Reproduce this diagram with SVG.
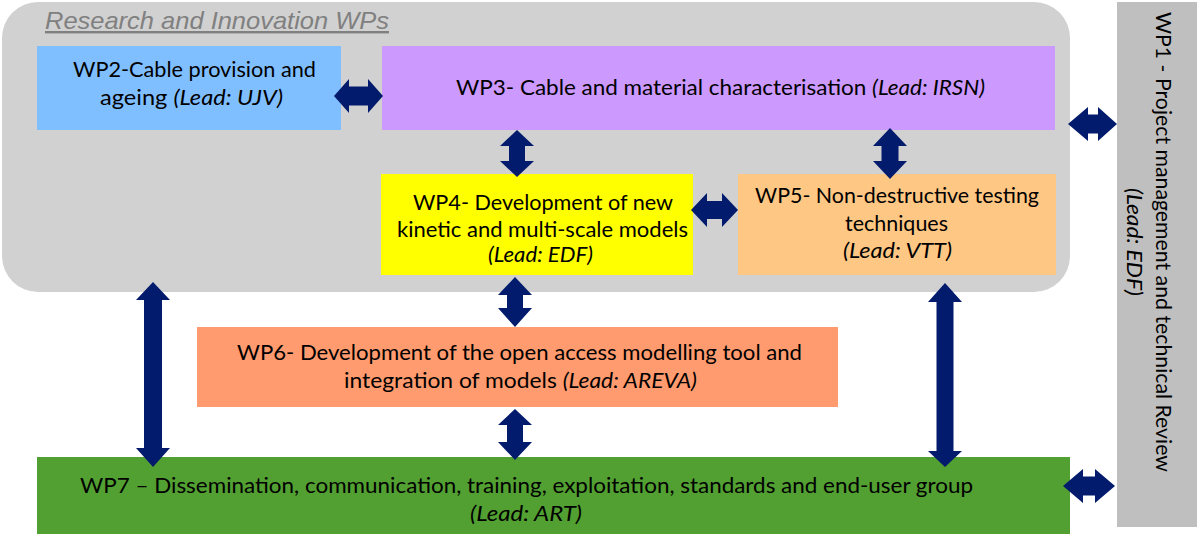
<svg xmlns="http://www.w3.org/2000/svg" width="1200" height="537" viewBox="0 0 1200 537">
<style>
.t{font-family:Lato,"Open Sans","Liberation Sans",sans-serif;font-size:21px;fill:#000}
.i{font-style:italic}
.ar{fill:#031B6C}
</style>
<rect x="0" y="0" width="1200" height="537" fill="#fff"/>
<g id="research-wps">
<rect x="2" y="2" width="1068" height="290" rx="36" ry="36" fill="#D1D1D1"/>
<text x="45" y="29" font-family="'Liberation Sans',Arial,sans-serif" font-size="24" font-style="italic" fill="#808080" text-decoration="underline" textLength="344" lengthAdjust="spacingAndGlyphs">Research and Innovation WPs</text>
</g>
<g id="wp1">
<rect x="1117" y="2" width="80" height="525" fill="#BFBFBF"/>
<text class="t" x="1156" y="242" text-anchor="middle" transform="rotate(90 1156 242)" textLength="460" lengthAdjust="spacingAndGlyphs">WP1 - Project management and technical Review</text>
<text class="t i" x="1127" y="242" text-anchor="middle" transform="rotate(90 1127 242)" textLength="108" lengthAdjust="spacingAndGlyphs">(Lead: EDF)</text>
</g>
<g id="wp2">
<rect x="37" y="46" width="304" height="84" fill="#80BFFF"/>
<text class="t" x="73" y="77" textLength="243" lengthAdjust="spacingAndGlyphs">WP2-Cable provision and</text>
<text class="t" x="100" y="105" textLength="183" lengthAdjust="spacingAndGlyphs">ageing <tspan class="i">(Lead: UJV)</tspan></text>
</g>
<g id="wp3">
<rect x="382" y="46" width="673" height="84" fill="#CC99FF"/>
<text class="t" x="456" y="95" textLength="529" lengthAdjust="spacingAndGlyphs">WP3- Cable and material characterisation <tspan class="i">(Lead: IRSN)</tspan></text>
</g>
<g id="wp4">
<rect x="381" y="174" width="312" height="101" fill="#FFFF00"/>
<text class="t" x="413" y="210" textLength="260" lengthAdjust="spacingAndGlyphs">WP4- Development of new</text>
<text class="t" x="397" y="237" textLength="291" lengthAdjust="spacingAndGlyphs">kinetic and multi-scale models</text>
<text class="t i" x="488" y="262" textLength="105" lengthAdjust="spacingAndGlyphs">(Lead: EDF)</text>
</g>
<g id="wp5">
<rect x="738" y="174" width="318" height="101" fill="#FFC784"/>
<text class="t" x="755" y="203" textLength="284" lengthAdjust="spacingAndGlyphs">WP5- Non-destructive testing</text>
<text class="t" x="845" y="231" textLength="103" lengthAdjust="spacingAndGlyphs">techniques</text>
<text class="t i" x="843" y="258" textLength="109" lengthAdjust="spacingAndGlyphs">(Lead: VTT)</text>
</g>
<g id="wp6">
<rect x="197" y="327" width="641" height="80" fill="#FF9B6E"/>
<text class="t" x="237" y="360" textLength="565" lengthAdjust="spacingAndGlyphs">WP6- Development of the open access modelling tool and</text>
<text class="t" x="344" y="388" textLength="353" lengthAdjust="spacingAndGlyphs">integration of models <tspan class="i">(Lead: AREVA)</tspan></text>
</g>
<g id="wp7">
<rect x="37" y="457" width="1033" height="77" fill="#52A032"/>
<text class="t" x="80" y="493" textLength="893" lengthAdjust="spacingAndGlyphs">WP7 – Dissemination, communication, training,  exploitation, standards and end-user group</text>
<text class="t i" x="470" y="521" textLength="112" lengthAdjust="spacingAndGlyphs">(Lead: ART)</text>
</g>
<g id="connectors">
<path class="ar" d="M334,96 L349,79 L349,86.5 L368,86.5 L368,79 L383,96 L368,113 L368,105.5 L349,105.5 L349,113 Z"/>
<path class="ar" d="M517,130 L534,146 L525,146 L525,161 L534,161 L517,177 L500,161 L509,161 L509,146 L500,146 Z"/>
<path class="ar" d="M691,210 L707,193 L707,201 L722,201 L722,193 L738,210 L722,227 L722,219 L707,219 L707,227 Z"/>
<path class="ar" d="M890,128 L907,146 L898.5,146 L898.5,161 L907,161 L890,179 L873,161 L881.5,161 L881.5,146 L873,146 Z"/>
<path class="ar" d="M1068,124 L1088,107 L1088,114.5 L1098,114.5 L1098,107 L1117,124 L1098,141 L1098,133.5 L1088,133.5 L1088,141 Z"/>
<path class="ar" d="M1063,486 L1083,469 L1083,476.5 L1095,476.5 L1095,469 L1115,486 L1095,503 L1095,495.5 L1083,495.5 L1083,503 Z"/>
<path class="ar" d="M153,282 L170,300 L162,300 L162,448 L170,448 L153,467 L136,448 L144,448 L144,300 L136,300 Z"/>
<path class="ar" d="M515,277 L532,295 L523,295 L523,308 L532,308 L515,327 L498,308 L507,308 L507,295 L498,295 Z"/>
<path class="ar" d="M515,409 L532,425 L523,425 L523,442 L532,442 L515,460 L498,442 L507,442 L507,425 L498,425 Z"/>
<path class="ar" d="M945,283 L962,302 L953.5,302 L953.5,451 L962,451 L945,467 L928,451 L936.5,451 L936.5,302 L928,302 Z"/>
</g>
</svg>
